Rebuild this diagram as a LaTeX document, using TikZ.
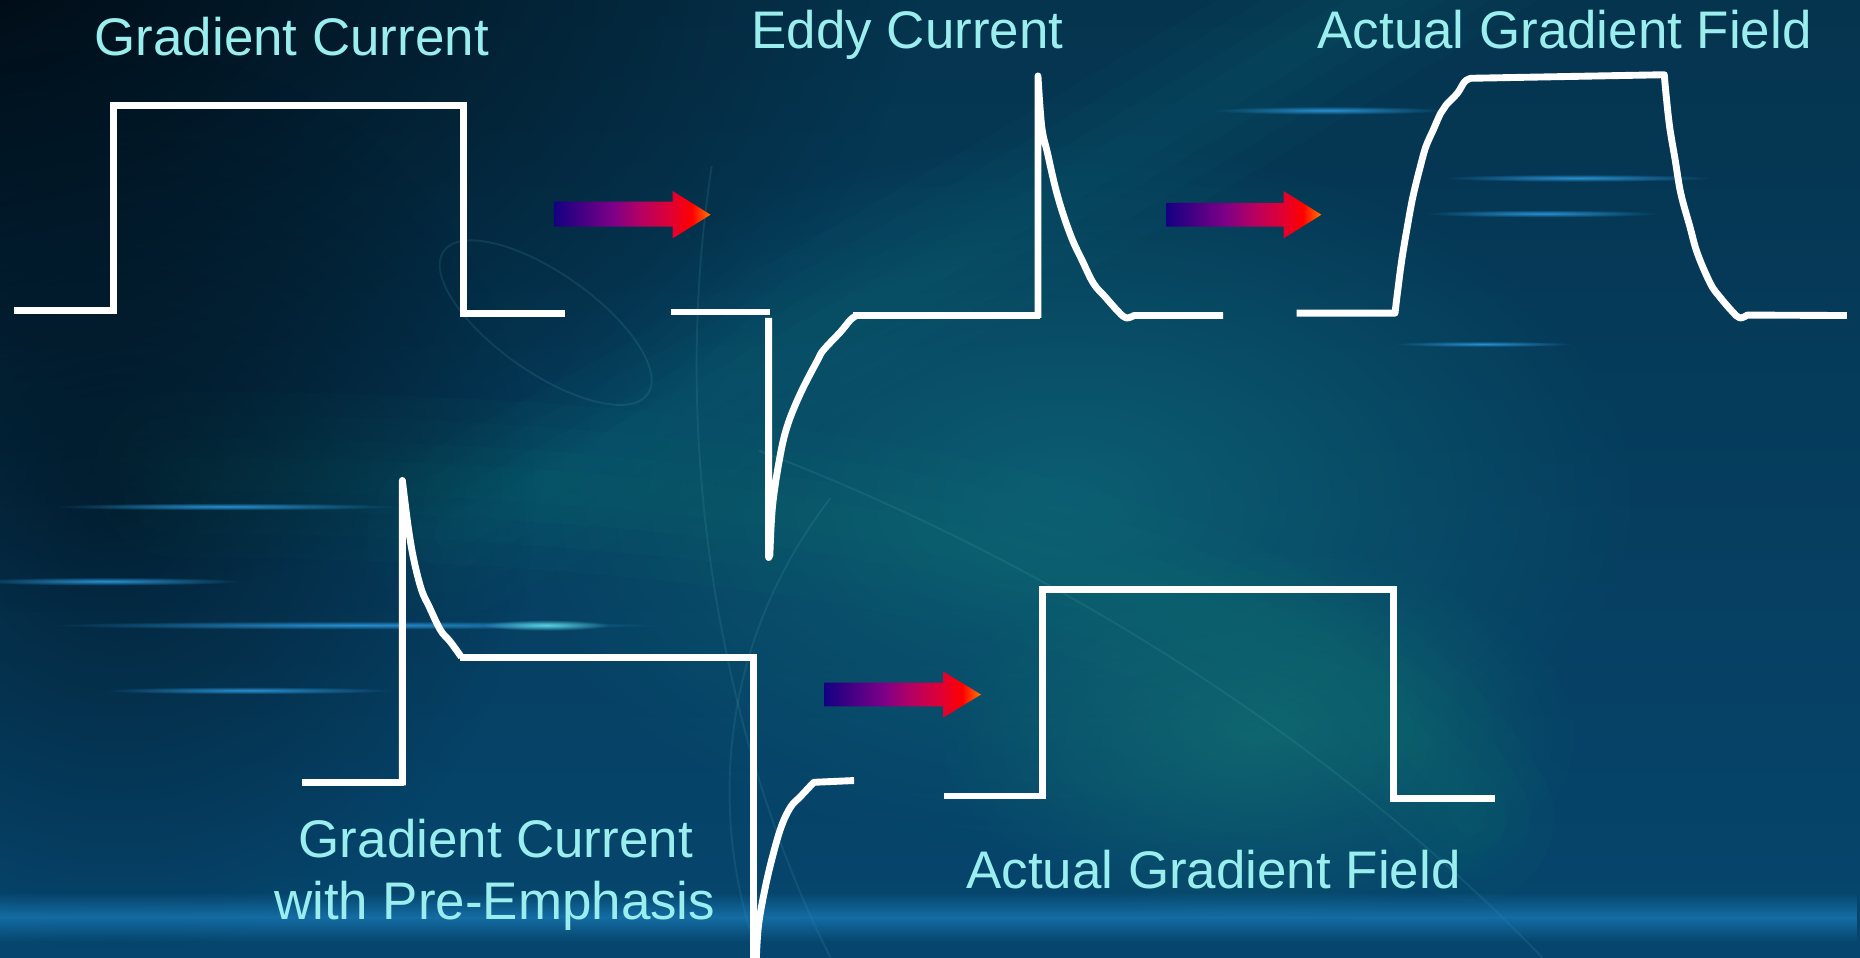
\documentclass[tikz,border=0pt]{standalone}
\usepackage{fontspec}
\setmainfont{Liberation Sans}
\usetikzlibrary{fadings}
\definecolor{txt}{RGB}{155,238,238}
\definecolor{ag1}{RGB}{20,0,130}
\definecolor{ag2}{RGB}{125,0,135}
\definecolor{ag3}{RGB}{180,0,100}
\definecolor{ag4}{RGB}{225,0,50}
\definecolor{ag5}{RGB}{255,0,0}
\definecolor{ag6}{RGB}{255,120,0}
\definecolor{bgT}{RGB}{5,52,78}
\definecolor{bgB}{RGB}{6,70,110}
\definecolor{bgDark}{RGB}{0,6,14}
\definecolor{tealA}{RGB}{14,105,120}
\definecolor{tealB}{RGB}{20,120,115}
\definecolor{streakC}{RGB}{40,145,210}
\definecolor{spotC}{RGB}{90,210,225}
\definecolor{bandC}{RGB}{30,135,200}
\definecolor{faintC}{RGB}{90,175,190}
\pgfdeclarehorizontalshading{arrowgrad}{100bp}{color(0bp)=(ag1); color(25bp)=(ag1); color(44bp)=(ag2); color(52.5bp)=(ag3); color(62.5bp)=(ag4); color(69bp)=(ag5); color(75bp)=(ag6); color(100bp)=(ag6)}
\pgfdeclareradialshading{glowshade}{\pgfpointorigin}{color(0bp)=(pgftransparent!0); color(19bp)=(pgftransparent!100); color(50bp)=(pgftransparent!100)}
\pgfdeclarefading{softglow}{\pgfuseshading{glowshade}}
\tikzfading[name=vband, top color=transparent!100, bottom color=transparent!100, middle color=transparent!40]
\begin{document}
\begin{tikzpicture}[x=0.5pt,y=-0.5pt,
  wave/.style={draw=white, line width=2.9pt, line join=round},
  sq/.style={draw=white, line width=2.9pt, line join=miter},
  lbl/.style={text=txt, font=\fontsize{22.3pt}{26pt}\selectfont, inner sep=0pt, anchor=base},
  faint/.style={draw=faintC, line width=0.8pt, opacity=0.14},
  streak/.style={fill=streakC, path fading=softglow}]
\useasboundingbox (0,0) rectangle (1568,807);
% ---------- background ----------
\begin{scope}
\clip (0,0) rectangle (1568,807);
\shade[top color=bgT, bottom color=bgB] (0,0) rectangle (1568,807);
\fill[tealA, path fading=softglow, fill opacity=0.75] (900,420) ellipse (640 and 400);
\fill[tealB, path fading=softglow, fill opacity=0.6] (1060,620) ellipse (360 and 210);
% diagonal swooshes (soft layered strokes)
\foreach \w in {70,50,30,14}{
  \draw[tealA, line width=\w pt, opacity=0.07, line cap=round] (380,450) .. controls (700,280) and (980,110) .. (1260,-60);
  \draw[tealB, line width=\w pt, opacity=0.07, line cap=round] (150,400) .. controls (800,400) and (1150,520) .. (1240,690);
}
\fill[bgDark, path fading=softglow, fill opacity=0.95] (-60,-60) ellipse (1100 and 760);
\fill[bgDark, path fading=softglow, fill opacity=0.5] (100,420) ellipse (460 and 500);
% faint curves
\draw[faint, rotate around={-35:(460,272)}] (460,272) ellipse (105 and 42);
\draw[faint] (600,140) .. controls (560,400) and (620,650) .. (700,807);
\draw[faint] (640,380) .. controls (850,460) and (1100,600) .. (1300,807);
\draw[faint] (700,420) .. controls (600,550) and (600,700) .. (640,807);
% horizontal streaks
\fill[streak] (1120,93) ellipse (130 and 4.5);
\fill[streak] (1330,150) ellipse (150 and 4);
\fill[streak] (1300,180) ellipse (130 and 4);
\fill[streak] (1250,290) ellipse (100 and 3);
\fill[streak] (190,427) ellipse (190 and 4);
\fill[streak] (90,490) ellipse (150 and 4.5);
\fill[streak] (300,527) ellipse (340 and 4.5);
\fill[spotC, path fading=softglow] (460,527) ellipse (70 and 6);
\fill[streak] (210,582) ellipse (160 and 4);
\fill[bandC, path fading=vband] (0,752) rectangle (1568,794);
\end{scope}
% ---------- arrows ----------
\shade[shading=arrowgrad] (467,170) -- (567,170) -- (567,161) -- (599,181) -- (567,201) -- (567,191) -- (467,191) -- cycle;
\shade[shading=arrowgrad] (983,171) -- (1082,171) -- (1082,161) -- (1114,181) -- (1082,201) -- (1082,191) -- (983,191) -- cycle;
\shade[shading=arrowgrad] (695,575.5) -- (795,575.5) -- (795,566) -- (827,585.5) -- (795,605) -- (795,595.5) -- (695,595.5) -- cycle;
% ---------- waveforms ----------
\begin{scope}
\clip (0,0) rectangle (1568,807);
% gradient current
\draw[sq] (12,262) -- (96,262) -- (96,89) -- (391,89) -- (391,264) -- (476,264);
% eddy current
\draw[sq] (566,263) -- (649.5,263);
\draw[wave] (648,268) -- (648,470) -- plot[smooth, tension=0.6] coordinates {(649,468) (651.2,427.1) (657,387.8) (663.5,359.7) (674.8,331.6) (689.3,303.5) (694.2,295.1) (708.7,279.6) (716.8,269.8) (722,266)};
\draw[sq] (719,266) -- (876.4,266);
\draw[wave] (875,268) -- (875,64) -- plot[smooth, tension=0.6] coordinates {(875,64) (878.2,106.8) (883.1,129.3) (889.5,157.4) (896,179.9) (904.1,202.3) (912.1,219.2) (921.8,238.9) (931.5,250.1) (942.8,262.8) (949.3,268) (956,266)} -- (1031,266);
% actual gradient field (top)
\draw[wave] (1093,264) -- (1176,264) -- plot[smooth, tension=0.6] coordinates {(1176,264) (1178,247.3) (1181.7,219.2) (1186.4,191.1) (1191.1,165.8) (1197.3,140.5) (1202,123.7) (1208.2,109.6) (1214.4,95.6) (1219.1,88.5) (1228.5,78.7) (1234.7,68.9) (1240,66)} -- (1403,63) -- plot[smooth, tension=0.6] coordinates {(1403,63) (1404.4,78.7) (1407.5,106.8) (1412.2,134.9) (1416.9,163) (1424.6,191.1) (1430.9,213.6) (1441.8,238.9) (1449.6,250.1) (1460.5,262.8) (1466.7,268) (1473,265.6)} -- (1557,266);
% gradient current with pre-emphasis
\draw[sq] (255,660) -- (340.6,660);
\draw[wave] (339.2,662) -- (339.2,405) -- plot[smooth, tension=0.6] coordinates {(339.2,405) (344.1,444) (348.9,472.1) (355.4,497.4) (361.8,511.4) (368.3,525.5) (373.1,533.9) (379.6,541) (389,554)};
\draw[sq] (388,554) -- (635,554) -- (635,812);
\draw[wave] (637.5,812) -- plot[smooth, tension=0.6] coordinates {(637.5,810) (639.3,781.2) (644.1,753.1) (650.5,725) (658.6,696.9) (666.7,680) (674.7,671.6) (686,659.5)} -- (720,658);
% actual gradient field (bottom)
\draw[sq] (796,671) -- (879,671) -- (879,497) -- (1175,497) -- (1175,673) -- (1260,673);
\end{scope}
% ---------- labels ----------
\node[lbl] (tGC) at (246,47) {Gradient Current};
\node[lbl] (tEC) at (765,41) {Eddy Current};
\node[lbl] (tAF) at (1319,41) {Actual Gradient Field};
\node[lbl] (tPE1) at (418,723) {Gradient Current};
\node[lbl] (tPE2) at (417,775) {with Pre-Emphasis};
\node[lbl] (tAF2) at (1023,749) {Actual Gradient Field};
\end{tikzpicture}
\end{document}
